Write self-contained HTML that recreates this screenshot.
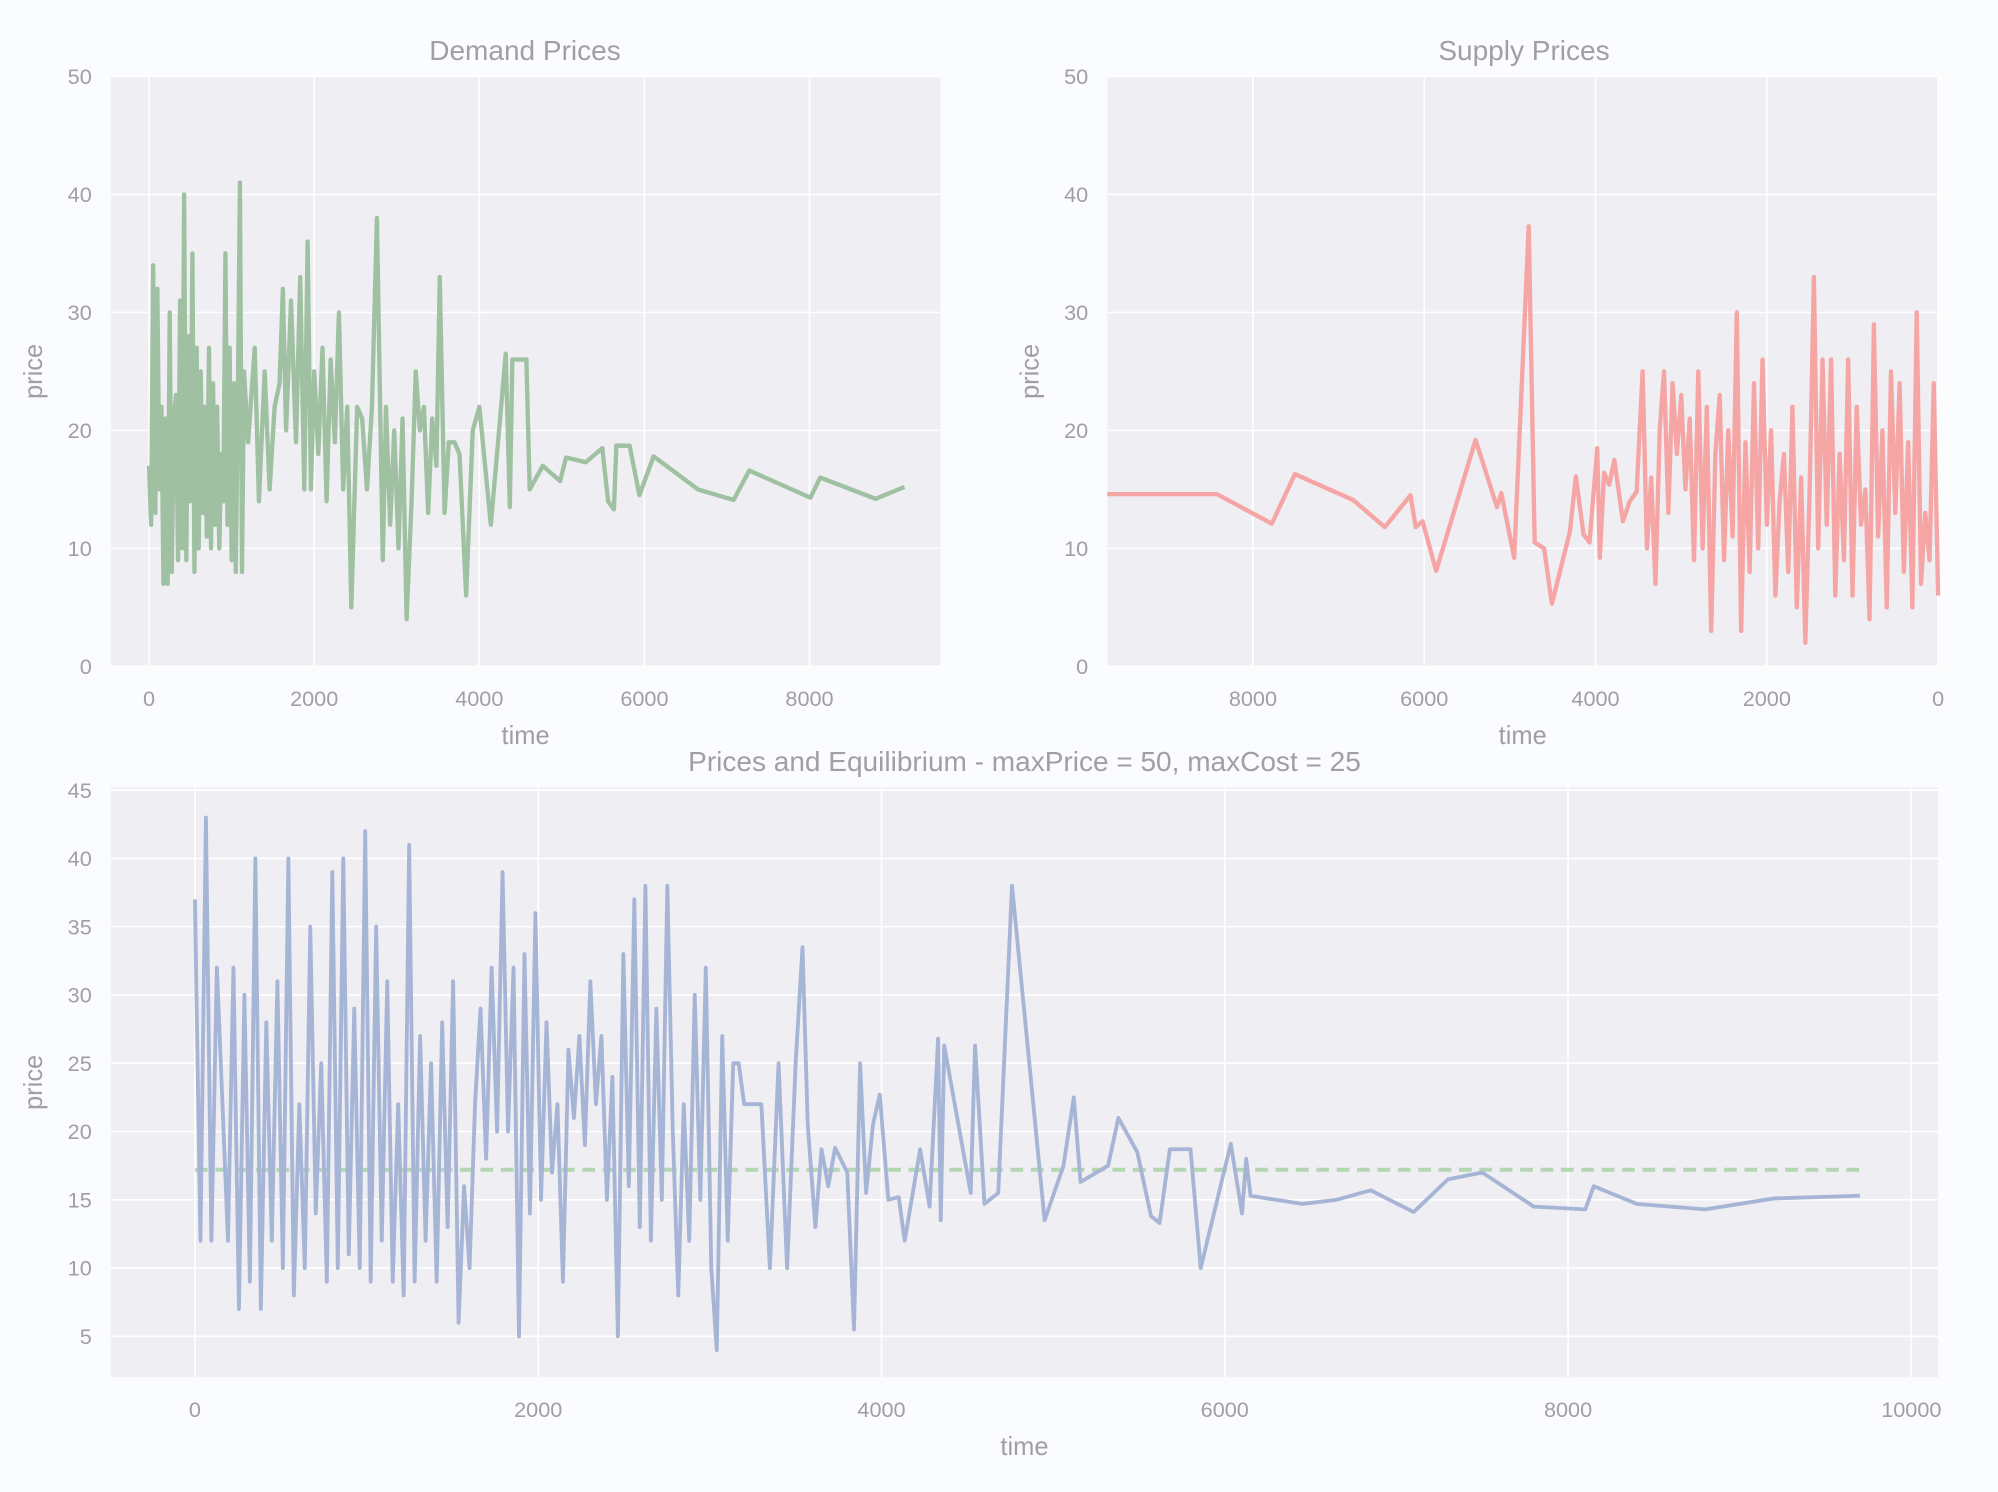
<!DOCTYPE html>
<html><head><meta charset="utf-8"><style>
html,body{margin:0;padding:0;background:#fbfcfe;}
svg{display:block;font-family:"Liberation Sans",sans-serif;}
text{fill:#a0a0a3;}
</style></head><body>
<svg id="fig" width="1998" height="1492" viewBox="0 0 1568 1171" preserveAspectRatio="none" xmlns="http://www.w3.org/2000/svg"></svg>
<script>
// ---- data ----
const demandDenseStep = 25;
const demandDensePrices = [17,12,34,13,32,15,22,7,21,7,30,8,21,23,9,31,10,40,9,28,14,35,8,27,10,25,13,22,11,27,10,24,12,22,10,18,14,35,12,27,9,24,8,22,41,8,25];
const demandTimes = [1200,1280,1330,1400,1460,1520,1580,1620,1660,1720,1780,1830,1880,1920,1960,2000,2050,2100,2150,2200,2250,2300,2350,2400,2450,2520,2580,2640,2700,2760,2830,2870,2920,2970,3020,3070,3120,3180,3230,3280,3330,3380,3430,3480,3520,3580,3630,3700,3760,3840,3920,4000,4140,4320,4370,4400,4570,4610,4770,4980,5050,5290,5490,5560,5630,5660,5820,5940,6110,6650,7080,7270,8010,8130,8800,9150];
const demandPrices = [19,27,14,25,15,22,24,32,20,31,19,33,15,36,15,25,18,27,14,26,19,30,15,22,5,22,21,15,22,38,9,22,12,20,10,21,4,14,25,20,22,13,21,17,33,13,19,19,18,6,20,22,12,26.5,13.5,26,26,15,17,15.7,17.7,17.3,18.5,14,13.3,18.7,18.7,14.5,17.8,15,14.1,16.6,14.3,16,14.2,15.2];

const supplyTimes = [9700,8420,7780,7510,6830,6460,6160,6100,6020,5860,5400,5150,5100,4950,4780,4710,4600,4510,4300,4230,4140,4070,3980,3950,3900,3840,3780,3680,3600,3520];
const supplyPrices = [14.6,14.6,12.1,16.3,14.1,11.8,14.5,11.8,12.3,8.1,19.2,13.5,14.7,9.2,37.3,10.5,10,5.3,11.4,16.1,11.2,10.5,18.5,9.2,16.4,15.4,17.5,12.3,14,14.8];
const supplyDenseStart = 3450, supplyDenseStep = 50;
const supplyDensePrices = [25,10,16,7,20,25,13,24,18,23,15,21,9,25,10,22,3,18,23,9,20,11,30,3,19,8,24,10,26,12,20,6,14,18,8,22,5,16,2,15,33,10,26,12,26,6,18,9,26,6,22,12,15,4,29,11,20,5,25,13,24,8,19,5,30,7,13,9,24,6];

const allDenseStep = 32;
const allDensePrices = [37,12,43,12,32,22,12,32,7,30,9,40,7,28,12,31,10,40,8,22,10,35,14,25,9,39,10,40,11,29,10,42,9,35,12,31,9,22,8,41,9,27,12,25,9,28,13,31,6,16,10,22,29,18,32,20,39,20,32,5,33,14,36,15,28,17,22,9,26,21,27,19,31,22,27,15,24,5,33,16,37,13,38,12,29,15,38,20,8,22,12,30,15,32,10,4,27,12,25,25,22];
const allTimes = [3300,3350,3400,3450,3500,3540,3570,3615,3650,3690,3730,3800,3840,3875,3910,3950,3990,4040,4100,4135,4225,4280,4330,4345,4365,4520,4545,4600,4680,4760,4950,5060,5120,5160,5320,5380,5490,5570,5620,5680,5800,5860,6035,6100,6125,6150,6450,6650,6850,7100,7300,7500,7800,8100,8150,8400,8800,9200,9700];
const allPrices = [22,10,25,10,25,33.5,20.5,13,18.7,16,18.8,17,5.5,25,15.5,20.5,22.7,15,15.2,12,18.7,14.5,26.8,13.5,26.3,15.5,26.3,14.7,15.5,38,13.5,17.5,22.5,16.3,17.5,21,18.5,13.8,13.3,18.7,18.7,10,19.1,14,18,15.3,14.7,15,15.7,14.1,16.5,17,14.5,14.3,16,14.7,14.3,15.1,15.3];
const equilibriumPrice = 17.2;
const equilibriumRange = [0, 9700];

const topYTicks = [0,10,20,30,40,50];
const demandXTicks = [0,2000,4000,6000,8000];
const supplyXTicks = [8000,6000,4000,2000,0];
const bottomYTicks = [5,10,15,20,25,30,35,40,45];
const bottomXTicks = [0,2000,4000,6000,8000,10000];

// ---- drawing ----
const NS = "http://www.w3.org/2000/svg";
const svg = document.getElementById('fig');
function el(tag, attrs, parent){
  const e = document.createElementNS(NS, tag);
  for (const k in attrs) e.setAttribute(k, attrs[k]);
  (parent||svg).appendChild(e);
  return e;
}
function makeAxes(name, box, xDom, yDom){
  const g = el('g', {});
  
  
  const bg = el('rect', {x:box.x0, y:box.y0, width:box.x1-box.x0, height:box.y1-box.y0, fill:'#eeeef3'}, g);
  
  
  const sx = v => box.x0 + (v - xDom[0])/(xDom[1]-xDom[0])*(box.x1-box.x0);
  const sy = v => box.y1 - (v - yDom[0])/(yDom[1]-yDom[0])*(box.y1-box.y0);
  return {g, sx, sy, box};
}
function ticks(ax, xt, yt, xlab, ylab, title, titleX){
  const b = ax.box;
  xt.forEach(v=>{
    const l = el('line',{x1:ax.sx(v),x2:ax.sx(v),y1:b.y0,y2:b.y1,stroke:'#fff','stroke-width':1.3},ax.g);
    
    
    const t = el('text',{x:ax.sx(v),y:b.y1+31,'text-anchor':'middle','font-size':17},ax.g);
    t.textContent = v;
    
    
  });
  yt.forEach(v=>{
    const l = el('line',{x1:b.x0,x2:b.x1,y1:ax.sy(v),y2:ax.sy(v),stroke:'#fff','stroke-width':1.3},ax.g);
    
    
    const t = el('text',{x:b.x0-15,y:ax.sy(v)+6,'text-anchor':'end','font-size':17},ax.g);
    t.textContent = v;
    
    
  });
  const xl = el('text',{x:(b.x0+b.x1)/2,y:b.y1+61,'text-anchor':'middle','font-size':20},ax.g);
  xl.textContent = xlab;
  
  
  const cy = (b.y0+b.y1)/2;
  const yl = el('text',{x:b.x0-54,y:cy,'text-anchor':'middle','font-size':20,transform:`rotate(-90 ${b.x0-54} ${cy})`},ax.g);
  yl.textContent = ylab;
  
  
  const tt = el('text',{x:titleX,y:b.y0-13,'text-anchor':'middle','font-size':22},ax.g);
  tt.textContent = title;
  
  
}
function line(ax, ts, ps, color, w, name, dash){
  const pts = ts.map((t,i)=>ax.sx(t).toFixed(1)+','+ax.sy(ps[i]).toFixed(1)).join(' ');
  const attrs = {points:pts, fill:'none', stroke:color, 'stroke-width':w, 'stroke-linejoin':'round'};
  if (dash) attrs['stroke-dasharray'] = dash;
  const p = el('polyline', attrs, ax.g);
  
  
}

// Demand
const dAx = makeAxes('demand-chart', {x0:87,y0:60,x1:738,y1:523}, [-463,9585], [0,50]);
ticks(dAx, demandXTicks, topYTicks, 'time', 'price', 'Demand Prices', 412);
const dT = demandDensePrices.map((_,i)=>i*demandDenseStep).concat(demandTimes);
const dP = demandDensePrices.concat(demandPrices);
line(dAx, dT, dP, '#9fc0a1', 3.4, 'demand-price-line');

// Supply (reversed x)
const sAx = makeAxes('supply-chart', {x0:869,y0:60,x1:1521,y1:523}, [9700,0], [0,50]);
ticks(sAx, supplyXTicks, topYTicks, 'time', 'price', 'Supply Prices', 1196);
const sT = supplyTimes.concat(supplyDensePrices.map((_,i)=>supplyDenseStart - i*supplyDenseStep));
const sP = supplyPrices.concat(supplyDensePrices);
line(sAx, sT, sP, '#f6a5a5', 3.4, 'supply-price-line');

// Combined
const bAx = makeAxes('equilibrium-chart', {x0:87,y0:618,x1:1521,y1:1081}, [-490,10156], [2.0,45.2]);
ticks(bAx, bottomXTicks, bottomYTicks, 'time', 'price', 'Prices and Equilibrium - maxPrice = 50, maxCost = 25', 804);
line(bAx, equilibriumRange, [equilibriumPrice, equilibriumPrice], '#b4d6b2', 3.2, 'equilibrium-line', '10,6');
const bT = allDensePrices.map((_,i)=>i*allDenseStep).concat(allTimes);
const bP = allDensePrices.concat(allPrices);
line(bAx, bT, bP, '#a6b4d6', 3, 'price-line');
</script>
</body></html>
